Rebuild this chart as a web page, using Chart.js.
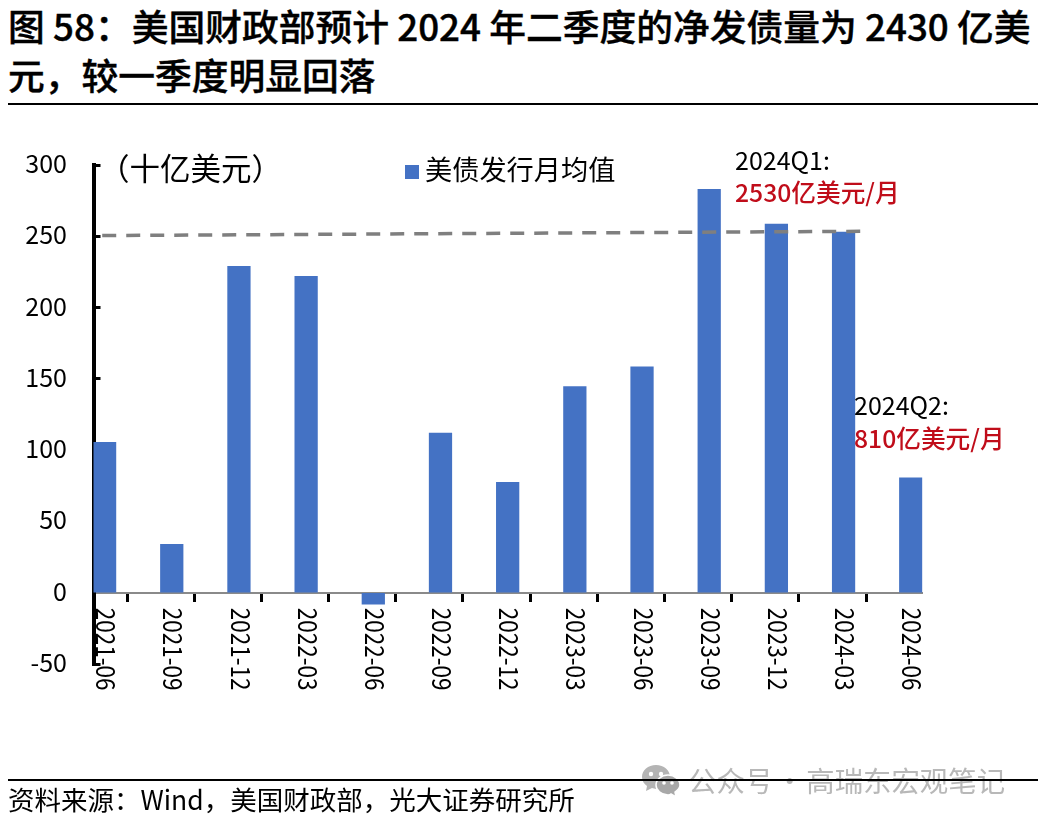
<!DOCTYPE html>
<html>
<head>
<meta charset="utf-8">
<script src="https://cdn.jsdelivr.net/npm/chart.js@4"></script>
<style>
html, body { margin: 0; padding: 0; background: #fff; }
body { width: 1041px; height: 823px; position: relative; overflow: hidden; font-family: "Noto Sans CJK SC", sans-serif; color: #000; }
#wrap { position: absolute; left: 0; top: 0; width: 1041px; height: 823px; }
.title { position: absolute; left: 8px; top: 1px; width: 1030px; font-size: 36.75px; font-weight: 500; line-height: 49px; white-space: nowrap; -webkit-text-stroke: 0.4px #000; }
.rule { position: absolute; left: 8px; width: 1030px; height: 2px; background: #000; }
.source { position: absolute; left: 8px; top: 780px; font-size: 26.5px; line-height: 38px; white-space: nowrap; }
.mark { position: absolute; left: 688px; top: 761px; font-size: 28.4px; line-height: 38px; word-spacing: -4px; color: rgba(140,140,140,.62); white-space: nowrap; }
.icon { position: absolute; left: 641px; top: 764px; }
</style>
</head>
<body>
<div class="title">图 58：美国财政部预计 2024 年二季度的净发债量为 2430 亿美<br>元，较一季度明显回落</div>
<div class="rule" style="top:103px"></div>
<div id="wrap"><canvas id="chart" width="1041" height="823"></canvas></div>
<div class="source">资料来源：Wind，美国财政部，光大证券研究所</div>
<svg class="icon" width="40" height="34" viewBox="0 0 40 34">
  <path d="M15 1C7 1 1 6 1 13c0 4 2 7 5 9l-1 5 6-3c1 0 3 1 4 1 8 0 14-5 14-12S23 1 15 1z" fill="#B4B4B4"/>
  <circle cx="10" cy="10" r="2.2" fill="#fff"/><circle cx="20" cy="10" r="2.2" fill="#fff"/>
  <path d="M27 11c-7 0-12 5-12 10s5 10 12 10c1 0 2 0 3-1l5 3-1-5c3-2 5-4 5-7 0-5-5-10-12-10z" fill="#A8A8A8" stroke="#fff" stroke-width="1.5"/>
  <circle cx="23" cy="19" r="1.8" fill="#fff"/><circle cx="31" cy="19" r="1.8" fill="#fff"/>
</svg>
<div class="mark">公众号 · 高瑞东宏观笔记</div>
<div class="rule" style="top:779px"></div>
<script>
const categories = ['2021-06','2021-09','2021-12','2022-03','2022-06','2022-09','2022-12','2023-03','2023-06','2023-09','2023-12','2024-03','2024-06'];
const issuance = [105.5, 34, 229, 222, -8, 112, 77.5, 144.5, 158.5, 283, 258.5, 253, 80.5];
const seriesName = '美债发行月均值';
const dashX = [0.13, 11.42];
const dashY = [250.5, 253.5];
const yMin = -50, yMax = 300, yStep = 50;

const FONT = '"Noto Sans CJK SC", sans-serif';
const BAR_COLOR = '#4472C4';
const RED = '#C00D1A';
const BAR_SHIFT = 0.165; // bars start at the tick instead of centring on it

// text that sits on the canvas: tick labels, unit, legend, notes
const extras = {
    id: 'extras',
    afterDraw(chart) {
        const ctx = chart.ctx;
        const x = chart.scales.x, y = chart.scales.y;
        ctx.save();
        ctx.textBaseline = 'middle';
        ctx.fillStyle = '#000';

        ctx.textAlign = 'right';
        ctx.font = '25px ' + FONT;
        y.ticks.forEach((t, i) => ctx.fillText(String(t.value), 67, y.getPixelForTick(i) - 1.5));

        // x labels read top to bottom, squeezed along the text like the original
        ctx.font = '26px ' + FONT;
        categories.forEach((c, i) => {
            ctx.save();
            ctx.translate(x.getPixelForValue(i + BAR_SHIFT) + 1.5, y.getPixelForValue(0) + 15);
            ctx.rotate(Math.PI / 2);
            ctx.scale(0.865, 1);
            ctx.textAlign = 'left';
            ctx.fillText(c, 0, 0);
            ctx.restore();
        });

        ctx.textAlign = 'left';
        ctx.font = '30.5px ' + FONT;
        ctx.fillText('（十亿美元）', 99, 168);

        ctx.font = '27.2px ' + FONT;
        ctx.fillStyle = BAR_COLOR;
        ctx.fillRect(405, 165, 14, 14);
        ctx.fillStyle = '#000';
        ctx.fillText(seriesName, 425, 170);

        ctx.font = '25px ' + FONT;
        ctx.fillText('2024Q1:', 735, 160);
        ctx.fillText('2024Q2:', 854, 405);
        ctx.fillStyle = RED;
        ctx.font = '500 24.7px ' + FONT;
        ctx.fillText('2530亿美元/月', 735, 193);
        ctx.fillText('810亿美元/月', 854, 439);
        ctx.restore();
    }
};

new Chart(document.getElementById('chart'), {
    data: {
        datasets: [
            {
                type: 'line',
                label: '2024Q1',
                data: dashX.map((v, i) => ({ x: v, y: dashY[i] })),
                borderColor: '#7F7F7F',
                borderWidth: 3.5,
                borderDash: [14, 10],
                pointRadius: 0,
                order: 0
            },
            {
                type: 'bar',
                label: seriesName,
                data: issuance.map((v, i) => ({ x: i + BAR_SHIFT, y: v })),
                backgroundColor: BAR_COLOR,
                barThickness: 22.6,
                order: 1
            }
        ]
    },
    options: {
        responsive: false,
        animation: false,
        layout: { padding: { top: 165, right: 118.5, bottom: 159, left: 0 } },
        plugins: { legend: { display: false }, tooltip: { enabled: false } },
        scales: {
            x: {
                type: 'linear',
                position: { y: 0 },
                min: 0,
                max: 12.34,
                offset: false,
                border: { color: '#8A8A8A', width: 2 },
                grid: { drawOnChartArea: false, tickColor: '#000', tickWidth: 3, tickLength: 8 },
                ticks: { stepSize: 1, includeBounds: false, display: false }
            },
            y: {
                min: yMin,
                max: yMax,
                afterFit(s) { s.width = 93.5; },
                border: { color: '#000', width: 4 },
                grid: { drawOnChartArea: false, tickColor: '#000', tickWidth: 3, tickLength: -7 },
                ticks: { stepSize: yStep, display: false }
            }
        }
    },
    plugins: [extras]
});
</script>
</body>
</html>
